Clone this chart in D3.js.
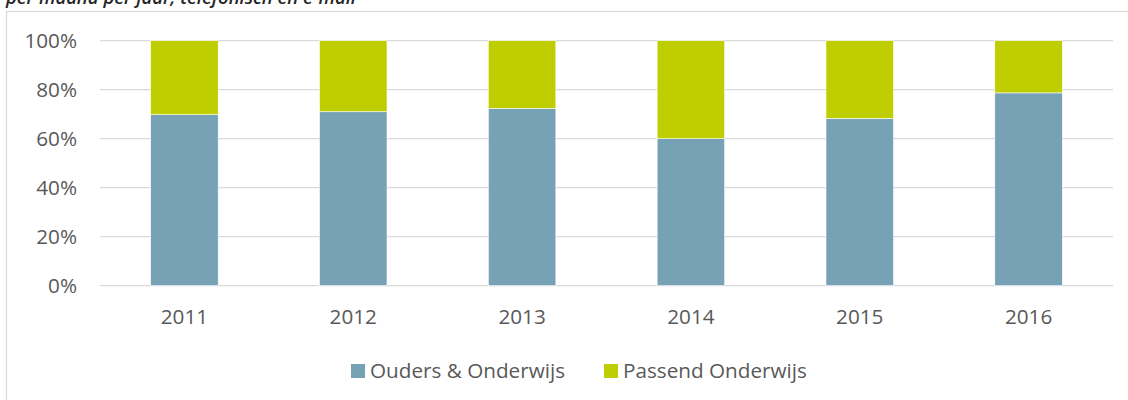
<!DOCTYPE html>
<html>
<head>
<meta charset="utf-8">
<script src="https://cdn.jsdelivr.net/npm/d3@7"></script>
<style>
  html, body { margin: 0; padding: 0; background: #fff; }
  svg { display: block; }
</style>
</head>
<body>
<svg id="chart"></svg>
<script>
// data (percent share per year)
const years = ['2011', '2012', '2013', '2014', '2015', '2016']
const ouders = [69.8, 71.0, 72.4, 60.0, 68.3, 78.7]
const passend = [30.2, 29.0, 27.6, 40.0, 31.7, 21.3]
const yTicks = [0, 20, 40, 60, 80, 100]
const seriesNames = ['Ouders & Onderwijs', 'Passend Onderwijs']
const seriesColors = ['#77a1b5', '#bfce00']
const caption = 'per maand per jaar, telefonisch en e-mail'

const width = 1128,
    height = 400
const font = '"Open Sans", "DejaVu Sans", sans-serif'
const textColor = '#595959'
const gridColor = '#d9d9d9'
const fontSize = 20.7

let $svg = d3.select('#chart')
    .attr('width', width)
    .attr('height', height)

// caption, cut off at the top like in the source
$svg.append('text')
    .attr('x', 6)
    .attr('y', 3.5)
    .attr('font-family', font)
    .attr('font-style', 'italic')
    .attr('font-weight', 600)
    .attr('font-size', 18.5)
    .attr('fill', '#262626')
    .text(caption)

// chart area border
$svg.append('rect')
    .attr('x', 6.5)
    .attr('y', 11.5)
    .attr('width', width + 20)
    .attr('height', height + 20)
    .attr('fill', 'none')
    .attr('stroke', gridColor)
    .attr('stroke-width', 1.3)

let scaleX = d3.scaleBand().domain(years).range([100, 1113]).paddingInner(0.6).paddingOuter(0.3)
let scaleY = d3.scaleLinear().domain([0, 100]).range([285.7, 40.7])

// gridlines
$svg.append('g')
    .selectAll('line')
    .data(yTicks)
    .join('line')
    .attr('x1', 100)
    .attr('x2', 1113)
    .attr('y1', d => scaleY(d))
    .attr('y2', d => scaleY(d))
    .attr('stroke', gridColor)
    .attr('stroke-width', 1.3)

// y labels
$svg.append('g')
    .selectAll('text')
    .data(yTicks)
    .join('text')
    .attr('x', 77)
    .attr('y', d => scaleY(d))
    .attr('dy', '0.35em')
    .attr('text-anchor', 'end')
    .attr('font-family', font)
    .attr('font-size', fontSize)
    .attr('fill', textColor)
    .text(d => d + '%')

// stacked bars
let rows = years.map((y, i) => ({ year: y, a: ouders[i], b: passend[i] }))
let stack = d3.stack().keys(['a', 'b'])(rows)

$svg.append('g')
    .selectAll('g')
    .data(stack)
    .join('g')
    .attr('fill', (d, i) => seriesColors[i])
    .selectAll('rect')
    .data(d => d)
    .join('rect')
    .attr('x', d => scaleX(d.data.year))
    .attr('width', scaleX.bandwidth())
    .attr('y', d => scaleY(d[1]))
    .attr('height', d => scaleY(d[0]) - scaleY(d[1]))
    .attr('stroke', '#fff')
    .attr('stroke-width', 0.6)

// x labels
$svg.append('g')
    .selectAll('text')
    .data(years)
    .join('text')
    .attr('x', d => scaleX(d) + scaleX.bandwidth() / 2)
    .attr('y', 324)
    .attr('text-anchor', 'middle')
    .attr('font-family', font)
    .attr('font-size', fontSize)
    .attr('fill', textColor)
    .text(d => d)

// legend
let legendX = [351, 604]
let $legend = $svg.append('g')
    .selectAll('g')
    .data(seriesNames)
    .join('g')
    .attr('transform', (d, i) => 'translate(' + legendX[i] + ',364)')
$legend.append('rect')
    .attr('width', 14)
    .attr('height', 14)
    .attr('fill', (d, i) => seriesColors[i])
$legend.append('text')
    .attr('x', 19)
    .attr('y', 13.5)
    .attr('font-family', font)
    .attr('font-size', fontSize)
    .attr('fill', textColor)
    .text(d => d)
</script>
</body>
</html>
